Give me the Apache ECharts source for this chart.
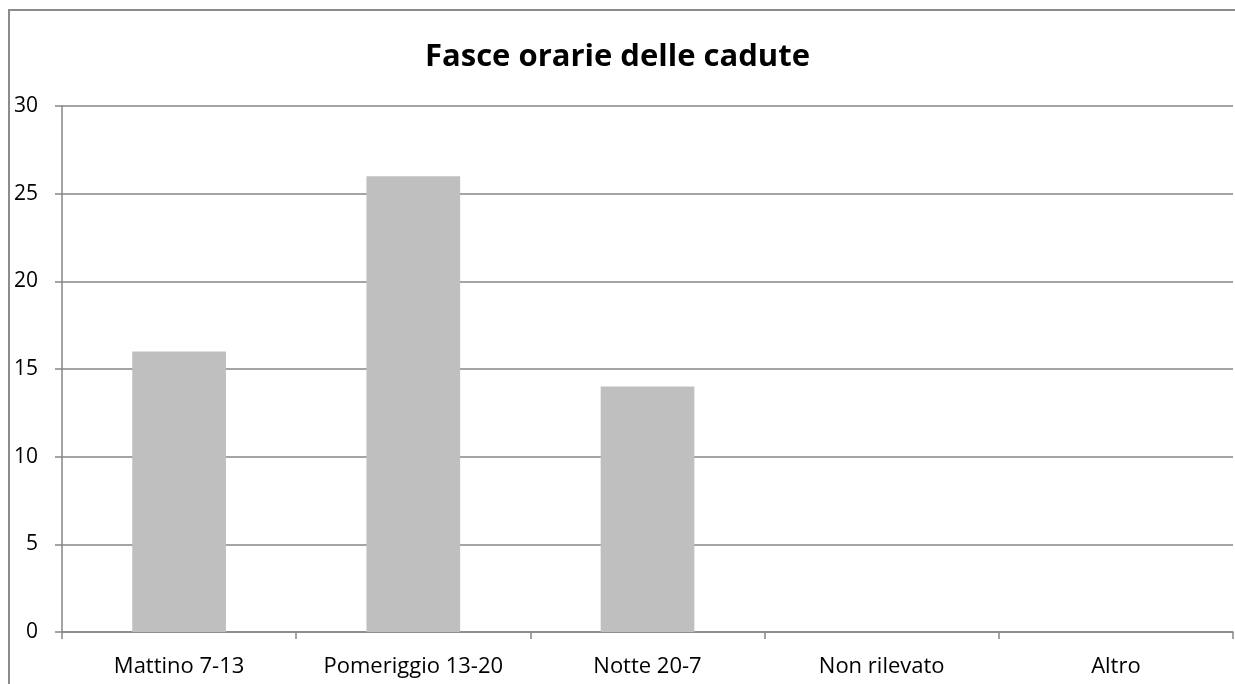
<!DOCTYPE html>
<html>
<head>
<meta charset="utf-8">
<script src="https://cdn.jsdelivr.net/npm/echarts@6/dist/echarts.min.js"></script>
<style>
  html, body { margin: 0; padding: 0; background: #fff; }
  #chart { width: 1235px; height: 684px; }
</style>
</head>
<body>
<div id="chart"></div>
<script>
var titleText = 'Fasce orarie delle cadute';
var categories = ['Mattino 7-13', 'Pomeriggio 13-20', 'Notte 20-7', 'Non rilevato', 'Altro'];
var cadute = [16, 26, 14, 0, 0];

var fontFam = '"Open Sans", "Liberation Sans", sans-serif';
var chart = echarts.init(document.getElementById('chart'));
var option = {
  animation: false,
  backgroundColor: '#fff',
  // chart frame (only left and top edges are inside the picture)
  graphic: [{
    type: 'polyline',
    shape: { points: [[9, 700], [9, 10], [1300, 10]] },
    style: { fill: 'none', stroke: '#8c8c8c', lineWidth: 2 },
    silent: true
  }],
  title: {
    text: titleText,
    left: 'center',
    top: 37,
    textStyle: { fontFamily: fontFam, fontSize: 31, fontWeight: 'bold', color: '#000' }
  },
  grid: { left: 62, right: 2, top: 106, bottom: 52, containLabel: false },
  xAxis: {
    type: 'category',
    data: categories,
    axisLine: { lineStyle: { color: '#868686', width: 1.5 } },
    axisTick: { show: true, length: 7, alignWithLabel: false, lineStyle: { color: '#868686', width: 1.5 } },
    axisLabel: { color: '#000', fontFamily: fontFam, fontSize: 22, margin: 24 }
  },
  yAxis: {
    type: 'value',
    min: 0, max: 30, interval: 5,
    axisLine: { show: true, lineStyle: { color: '#868686', width: 1.5 } },
    axisTick: { show: true, length: 7, lineStyle: { color: '#868686', width: 1.5 } },
    axisLabel: { color: '#000', fontFamily: fontFam, fontSize: 21, margin: 24 },
    splitLine: { show: true, lineStyle: { color: '#868686', width: 1.5 } }
  },
  series: [{
    type: 'bar',
    data: cadute,
    barWidth: '40%',
    itemStyle: { color: '#bfbfbf' }
  }]
};
chart.setOption(option);
</script>
</body>
</html>
